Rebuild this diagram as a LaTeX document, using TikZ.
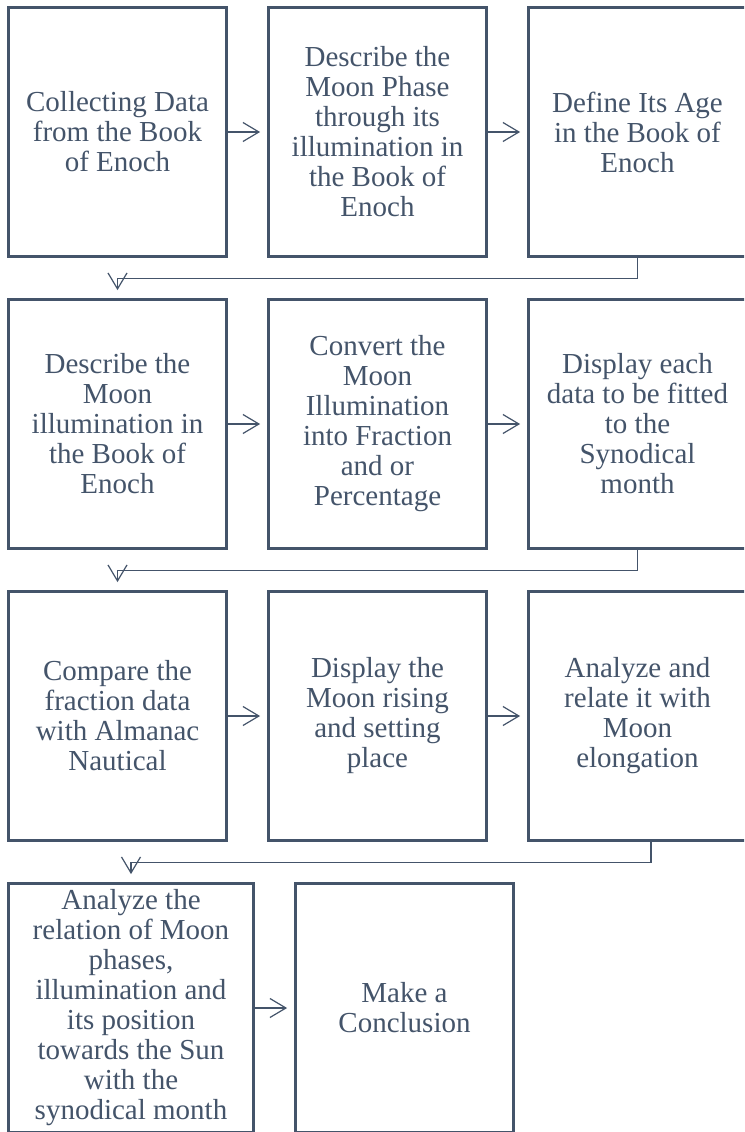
\documentclass[tikz,border=0pt]{standalone}
\usepackage{fontspec}
\setmainfont{Liberation Serif}
\usetikzlibrary{arrows.meta,calc}
\definecolor{slate}{HTML}{44546A}

\tikzset{
  stepbox/.style={draw=slate, line width=2.8pt, text=slate, inner sep=0pt,
    minimum width=218pt, minimum height=249pt, align=center,
    font=\fontsize{29}{30}\selectfont},
  widebox/.style={stepbox, minimum width=245pt},
  flow/.style={draw=slate, line width=1.2pt,
    -{Straight Barb[length=16pt,width=19pt,line width=1.2pt]}},
  across/.style={flow, shorten >=7pt},
  down/.style={flow, shorten >=8pt}
}

\begin{document}
\begin{tikzpicture}[x=1pt,y=-1pt]
\useasboundingbox (0,0) rectangle (744,1132);
\clip (0,0) rectangle (744,1132);
\fill[white] (0,0) rectangle (744,1132);

% first row
\node[stepbox] (b1) at (117.5,132) {Collecting Data\\from the Book\\of Enoch};
\node[stepbox] (b2) at (377.5,132) {Describe the\\Moon Phase\\through its\\illumination in\\the Book of\\Enoch};
\node[stepbox] (b3) at (637.5,132) {Define Its Age\\in the Book of\\Enoch};

% second row
\node[stepbox] (b4) at (117.5,424) {Describe the\\Moon\\illumination in\\the Book of\\Enoch};
\node[stepbox] (b5) at (377.5,424) {Convert the\\Moon\\Illumination\\into Fraction\\and or\\Percentage};
\node[stepbox] (b6) at (637.5,424) {Display each\\data to be fitted\\to the\\Synodical\\month};

% third row
\node[stepbox] (b7) at (117.5,716) {Compare the\\fraction data\\with Almanac\\Nautical};
\node[stepbox] (b8) at (377.5,716) {Display the\\Moon rising\\and setting\\place};
\node[stepbox] (b9) at (637.5,716) {Analyze and\\relate it with\\Moon\\elongation};

% fourth row
\node[widebox] (b10) at (131,1008) {Analyze the\\relation of Moon\\phases,\\illumination and\\its position\\towards the Sun\\with the\\synodical month};
\node[stepbox] (b11) at (404.5,1008) {Make a\\Conclusion};

% arrows inside each row
\draw[across] (b1.east) -- (b2.west);
\draw[across] (b2.east) -- (b3.west);
\draw[across] (b4.east) -- (b5.west);
\draw[across] (b5.east) -- (b6.west);
\draw[across] (b7.east) -- (b8.west);
\draw[across] (b8.east) -- (b9.west);
\draw[across] (b10.east) -- (b11.west);

% bends from the end of one row to the start of the next
\draw[down] (b3.south) |- ($(b4.north)+(0,-20)$) -- (b4.north);
\draw[down] (b6.south) |- ($(b7.north)+(0,-20)$) -- (b7.north);
\draw[down] ([xshift=13.5pt]b9.south) |- ($(b10.north)+(0,-20)$) -- (b10.north);
\end{tikzpicture}
\end{document}
